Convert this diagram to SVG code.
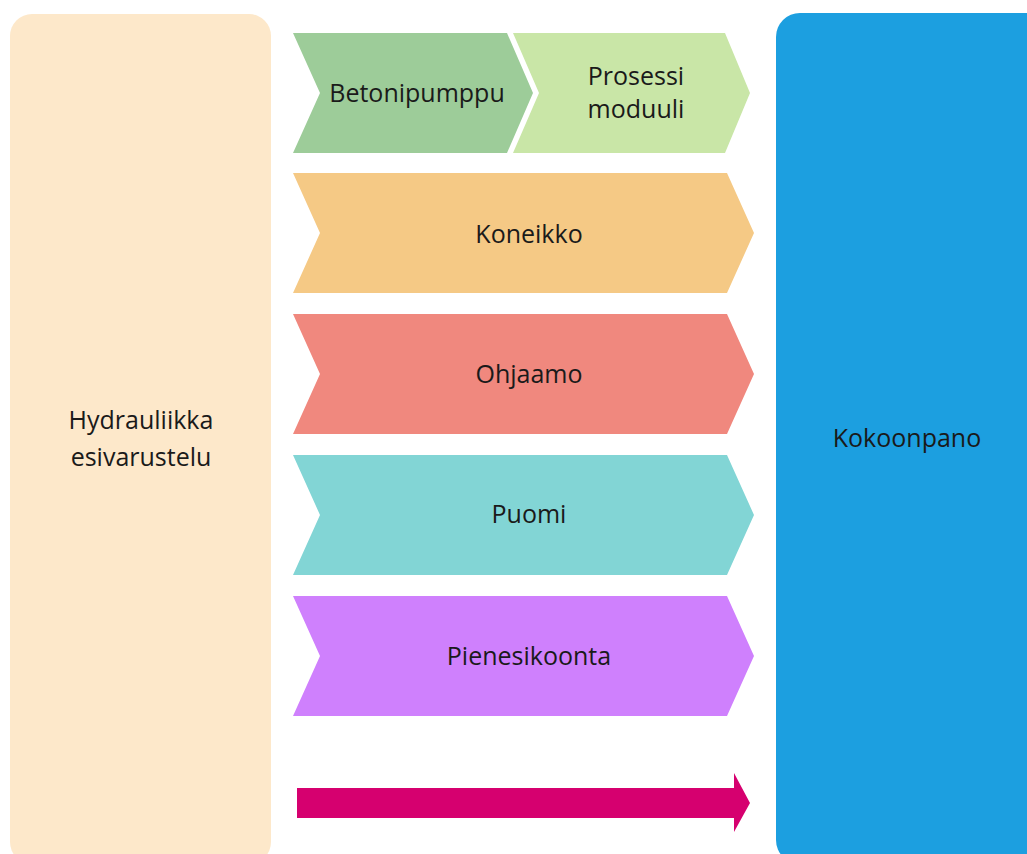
<svg xmlns="http://www.w3.org/2000/svg" width="1027" height="854" viewBox="0 0 1027 854">
<style>
text{font-family:"Open Sans","Noto Sans","Liberation Sans",sans-serif;font-size:25px;fill:#1a1a1a;text-anchor:middle;dominant-baseline:central}
</style>
<rect width="1027" height="854" fill="#ffffff"/>
<g id="hydrauliikka">
<rect x="10" y="14" width="261" height="850" rx="22" fill="#fde8ca"/>
<text x="141" y="419">Hydrauliikka</text>
<text x="141" y="456">esivarustelu</text>
</g>
<g id="kokoonpano">
<rect x="776" y="13" width="280" height="851" rx="24" fill="#1c9fe0"/>
<text x="907" y="437">Kokoonpano</text>
</g>
<g id="betonipumppu">
<polygon points="293,33 507,33 533,93 507,153 293,153 320,93" fill="#9dcc99"/>
<text x="417" y="92">Betonipumppu</text>
</g>
<g id="prosessimoduuli">
<polygon points="513,33 725,33 750,93 725,153 513,153 539,93" fill="#c9e6a7"/>
<text x="636" y="75">Prosessi</text>
<text x="636" y="108">moduuli</text>
</g>
<g id="koneikko">
<polygon points="293,173 727,173 754,233 727,293 293,293 320,233" fill="#f5c985"/>
<text x="529" y="233">Koneikko</text>
</g>
<g id="ohjaamo">
<polygon points="293,314 727,314 754,374 727,434 293,434 320,374" fill="#f0887e"/>
<text x="529" y="373">Ohjaamo</text>
</g>
<g id="puomi">
<polygon points="293,455 727,455 754,515 727,575 293,575 320,515" fill="#82d5d5"/>
<text x="529" y="513">Puomi</text>
</g>
<g id="pienesikoonta">
<polygon points="293,596 727,596 754,656 727,716 293,716 320,656" fill="#cf80fd"/>
<text x="529" y="655">Pienesikoonta</text>
</g>
<g id="connectors">
<polygon points="297,788 734,788 734,773 750,803 734,832 734,818 297,818" fill="#d6006f"/>
</g>
</svg>
